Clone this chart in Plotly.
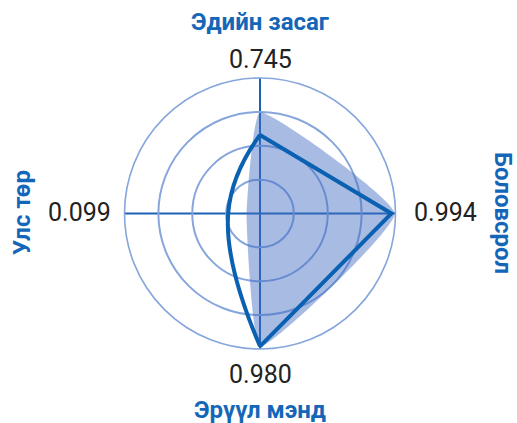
import plotly.graph_objects as go

# ---- data ----
categories = ["Эдийн засаг", "Боловсрол", "Эрүүл мэнд", "Улс төр"]
index_values = [0.745, 0.994, 0.980, 0.099]      # shaded area / printed values
outline_values = [0.58, 0.97, 0.98, 0.235]       # thick outline
value_labels = [f"{v:.3f}" for v in index_values]

W, H = 517, 423
BLUE_TEXT = "#1467b8"
LINE_BLUE = "#0b61b1"
RING = "#86a6dc"
AXIS = "#1a63b5"

fig = go.Figure()

# shaded area (closed smooth)
fig.add_trace(go.Scatterpolar(
    theta=categories + [categories[0]],
    r=index_values + [index_values[0]],
    mode="lines", line=dict(width=0, shape="spline", smoothing=0.4),
    fill="toself", fillcolor="rgba(66,106,195,0.46)",
    hoverinfo="skip", showlegend=False,
))

# outline: straight on the right side, curved on the left side
right_idx = [0, 1, 2]
left_idx = [2, 3, 0]
fig.add_trace(go.Scatterpolar(
    theta=[categories[i] for i in right_idx],
    r=[outline_values[i] for i in right_idx],
    mode="lines", line=dict(color=LINE_BLUE, width=4),
    hoverinfo="skip", showlegend=False,
))
fig.add_trace(go.Scatterpolar(
    theta=[categories[i] for i in left_idx],
    r=[outline_values[i] for i in left_idx],
    mode="lines", line=dict(color=LINE_BLUE, width=4, shape="spline", smoothing=1.3),
    hoverinfo="skip", showlegend=False,
))

# polar area geometry (pixels)
cx, cy, R = 260, 213.5, 135.5
fig.update_layout(
    width=W, height=H,
    margin=dict(l=0, r=0, t=0, b=0),
    paper_bgcolor="white", plot_bgcolor="white",
    showlegend=False,
    polar=dict(
        domain=dict(x=[(cx - R) / W, (cx + R) / W], y=[1 - (cy + R) / H, 1 - (cy - R) / H]),
        bgcolor="white",
        radialaxis=dict(range=[0, 1], tickvals=[0.25, 0.5, 0.75], showticklabels=False,
                        ticks="", showline=False, gridcolor=RING, gridwidth=1.6),
        angularaxis=dict(direction="clockwise", rotation=90, showticklabels=False,
                         ticks="", showline=True, linecolor=RING, linewidth=1.6,
                         showgrid=True, gridcolor=AXIS, gridwidth=2),
    ),
)

# text labels around the chart
cat_pos = [(260, 22, 0), (503, 213, 90), (260, 410, 0), (22, 213, -90)]
val_pos = [(260, 60), (445, 213), (260, 374), (79, 213)]
for name, (px, py, ang) in zip(categories, cat_pos):
    fig.add_annotation(text=name, x=px / W, y=1 - py / H, xref="paper", yref="paper",
                       showarrow=False, textangle=ang, xanchor="center", yanchor="middle",
                       font=dict(family="Roboto", size=24, color=BLUE_TEXT, weight="bold"))
for lab, (px, py) in zip(value_labels, val_pos):
    fig.add_annotation(text=lab, x=px / W, y=1 - py / H, xref="paper", yref="paper",
                       showarrow=False, xanchor="center", yanchor="middle",
                       font=dict(family="Roboto", size=25, color="#222222"))

fig.write_html("out.html", config={"displayModeBar": False},
               post_script="document.body.style.margin='0';")
